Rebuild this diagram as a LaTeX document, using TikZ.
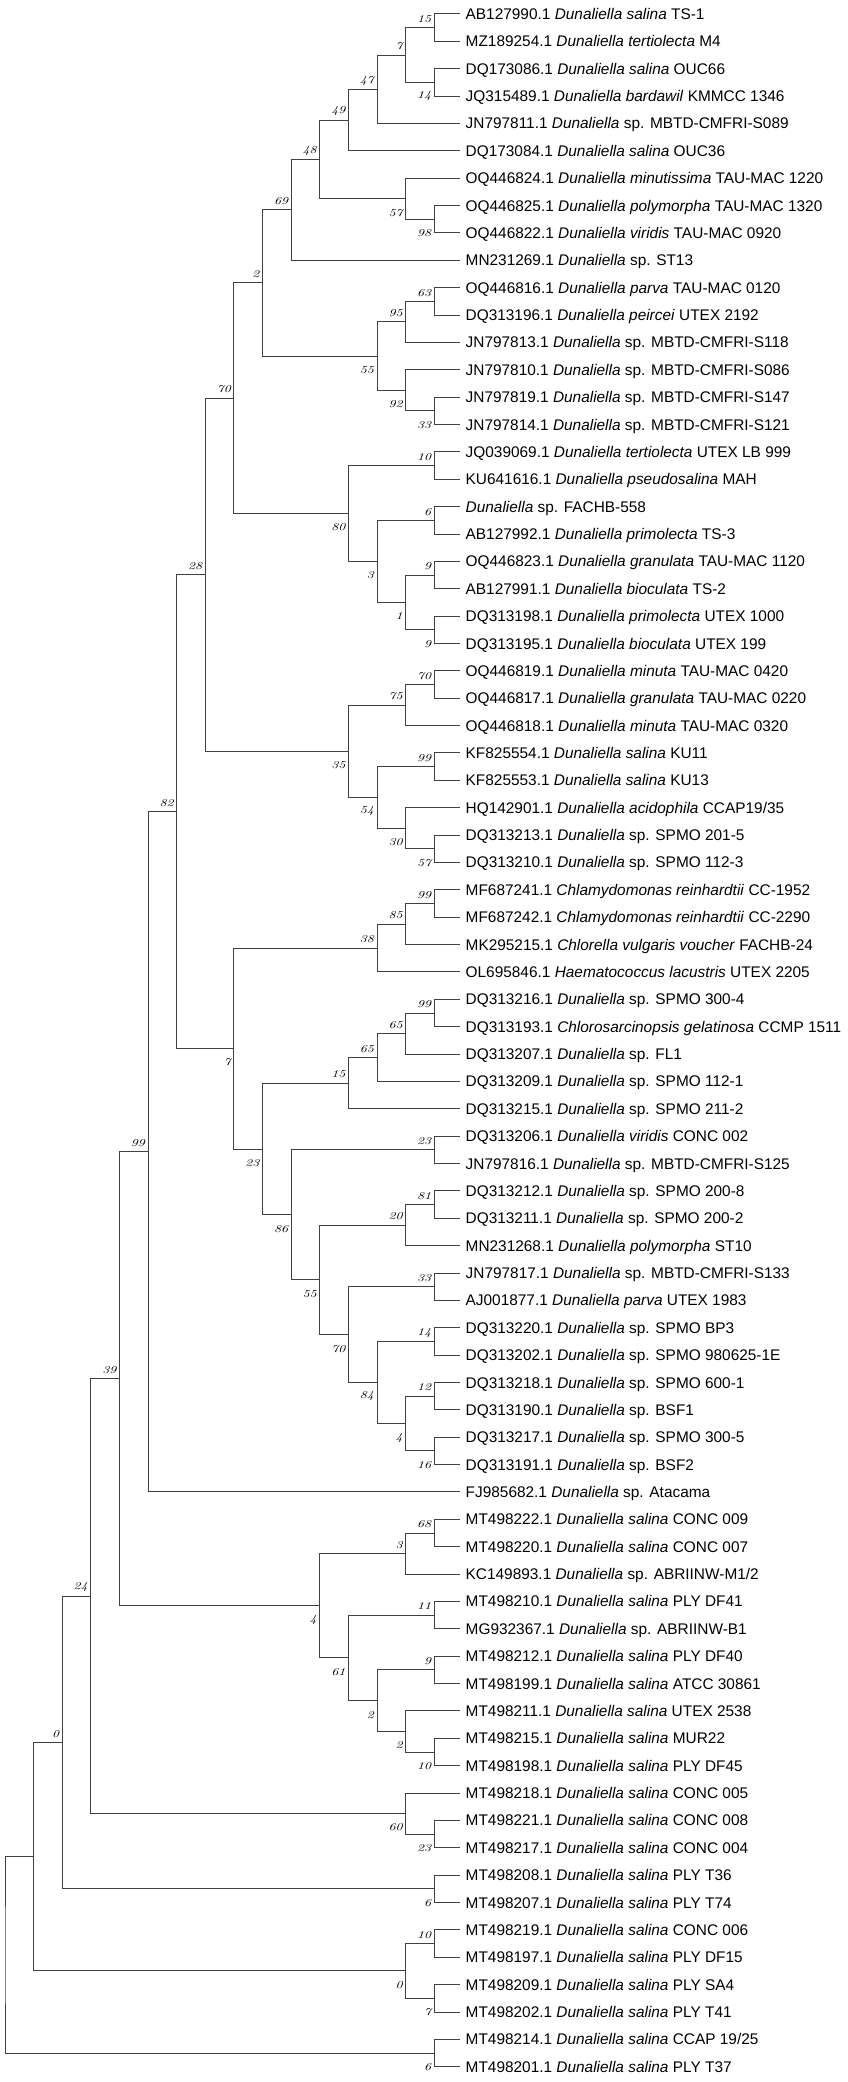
\documentclass[tikz,border=0pt]{standalone}
\usepackage{fontspec}
\newfontfamily\leaffont{Liberation Sans}
\newfontfamily\bootfont[Extension=.otf, FakeStretch=1.3]{lmroman10-italic}
\usetikzlibrary{calc}

\tikzset{
  branch/.style={line width=1pt, draw=black!75},
  taxon/.style={anchor=west, inner sep=0pt, text height=11pt, text depth=0pt,
    font=\leaffont\fontsize{15.4}{15.4}\selectfont},
  boot/.style={anchor=east, inner sep=0pt, xshift=-3pt,
    font=\bootfont\fontsize{10.5}{10.5}\selectfont},
  up/.style={yshift=8.7pt},
  dn/.style={yshift=-14pt},
}

% clade: name, depth, upper child, lower child, bootstrap, label side
\newcommand{\clade}[6]{%
  \path let \p1=(#3), \p2=(#4) in coordinate (#1) at ({5pt+28.62pt*#2}, {0.5*\y1+0.5*\y2});
  \draw[branch] (#3) -| (#1) |- (#4);
  \node[boot, #6] (#1-bs) at (#1) {#5};}

\begin{document}
\begin{tikzpicture}[x=1pt, y=-1pt]
  \useasboundingbox (0,0) rectangle (848,2082);

  % Taxa
  \foreach \t [count=\i] in {
    {AB127990.1 \textit{Dunaliella salina} TS-1},
    {MZ189254.1 \textit{Dunaliella tertiolecta} M4},
    {DQ173086.1 \textit{Dunaliella salina} OUC66},
    {JQ315489.1 \textit{Dunaliella bardawil} KMMCC 1346},
    {JN797811.1 \textit{Dunaliella} sp. MBTD-CMFRI-S089},
    {DQ173084.1 \textit{Dunaliella salina} OUC36},
    {OQ446824.1 \textit{Dunaliella minutissima} TAU-MAC 1220},
    {OQ446825.1 \textit{Dunaliella polymorpha} TAU-MAC 1320},
    {OQ446822.1 \textit{Dunaliella viridis} TAU-MAC 0920},
    {MN231269.1 \textit{Dunaliella} sp. ST13},
    {OQ446816.1 \textit{Dunaliella parva} TAU-MAC 0120},
    {DQ313196.1 \textit{Dunaliella peircei} UTEX 2192},
    {JN797813.1 \textit{Dunaliella} sp. MBTD-CMFRI-S118},
    {JN797810.1 \textit{Dunaliella} sp. MBTD-CMFRI-S086},
    {JN797819.1 \textit{Dunaliella} sp. MBTD-CMFRI-S147},
    {JN797814.1 \textit{Dunaliella} sp. MBTD-CMFRI-S121},
    {JQ039069.1 \textit{Dunaliella tertiolecta} UTEX LB 999},
    {KU641616.1 \textit{Dunaliella pseudosalina} MAH},
    {\textit{Dunaliella} sp. FACHB-558},
    {AB127992.1 \textit{Dunaliella primolecta} TS-3},
    {OQ446823.1 \textit{Dunaliella granulata} TAU-MAC 1120},
    {AB127991.1 \textit{Dunaliella bioculata} TS-2},
    {DQ313198.1 \textit{Dunaliella primolecta} UTEX 1000},
    {DQ313195.1 \textit{Dunaliella bioculata} UTEX 199},
    {OQ446819.1 \textit{Dunaliella minuta} TAU-MAC 0420},
    {OQ446817.1 \textit{Dunaliella granulata} TAU-MAC 0220},
    {OQ446818.1 \textit{Dunaliella minuta} TAU-MAC 0320},
    {KF825554.1 \textit{Dunaliella salina} KU11},
    {KF825553.1 \textit{Dunaliella salina} KU13},
    {HQ142901.1 \textit{Dunaliella acidophila} CCAP19/35},
    {DQ313213.1 \textit{Dunaliella} sp. SPMO 201-5},
    {DQ313210.1 \textit{Dunaliella} sp. SPMO 112-3},
    {MF687241.1 \textit{Chlamydomonas reinhardtii} CC-1952},
    {MF687242.1 \textit{Chlamydomonas reinhardtii} CC-2290},
    {MK295215.1 \textit{Chlorella vulgaris voucher} FACHB-24},
    {OL695846.1 \textit{Haematococcus lacustris} UTEX 2205},
    {DQ313216.1 \textit{Dunaliella} sp. SPMO 300-4},
    {DQ313193.1 \textit{Chlorosarcinopsis gelatinosa} CCMP 1511},
    {DQ313207.1 \textit{Dunaliella} sp. FL1},
    {DQ313209.1 \textit{Dunaliella} sp. SPMO 112-1},
    {DQ313215.1 \textit{Dunaliella} sp. SPMO 211-2},
    {DQ313206.1 \textit{Dunaliella viridis} CONC 002},
    {JN797816.1 \textit{Dunaliella} sp. MBTD-CMFRI-S125},
    {DQ313212.1 \textit{Dunaliella} sp. SPMO 200-8},
    {DQ313211.1 \textit{Dunaliella} sp. SPMO 200-2},
    {MN231268.1 \textit{Dunaliella polymorpha} ST10},
    {JN797817.1 \textit{Dunaliella} sp. MBTD-CMFRI-S133},
    {AJ001877.1 \textit{Dunaliella parva} UTEX 1983},
    {DQ313220.1 \textit{Dunaliella} sp. SPMO BP3},
    {DQ313202.1 \textit{Dunaliella} sp. SPMO 980625-1E},
    {DQ313218.1 \textit{Dunaliella} sp. SPMO 600-1},
    {DQ313190.1 \textit{Dunaliella} sp. BSF1},
    {DQ313217.1 \textit{Dunaliella} sp. SPMO 300-5},
    {DQ313191.1 \textit{Dunaliella} sp. BSF2},
    {FJ985682.1 \textit{Dunaliella} sp. Atacama},
    {MT498222.1 \textit{Dunaliella salina} CONC 009},
    {MT498220.1 \textit{Dunaliella salina} CONC 007},
    {KC149893.1 \textit{Dunaliella} sp. ABRIINW-M1/2},
    {MT498210.1 \textit{Dunaliella salina} PLY DF41},
    {MG932367.1 \textit{Dunaliella} sp. ABRIINW-B1},
    {MT498212.1 \textit{Dunaliella salina} PLY DF40},
    {MT498199.1 \textit{Dunaliella salina} ATCC 30861},
    {MT498211.1 \textit{Dunaliella salina} UTEX 2538},
    {MT498215.1 \textit{Dunaliella salina} MUR22},
    {MT498198.1 \textit{Dunaliella salina} PLY DF45},
    {MT498218.1 \textit{Dunaliella salina} CONC 005},
    {MT498221.1 \textit{Dunaliella salina} CONC 008},
    {MT498217.1 \textit{Dunaliella salina} CONC 004},
    {MT498208.1 \textit{Dunaliella salina} PLY T36},
    {MT498207.1 \textit{Dunaliella salina} PLY T74},
    {MT498219.1 \textit{Dunaliella salina} CONC 006},
    {MT498197.1 \textit{Dunaliella salina} PLY DF15},
    {MT498209.1 \textit{Dunaliella salina} PLY SA4},
    {MT498202.1 \textit{Dunaliella salina} PLY T41},
    {MT498214.1 \textit{Dunaliella salina} CCAP 19/25},
    {MT498201.1 \textit{Dunaliella salina} PLY T37}}
  {
    \coordinate (l\i) at (460, {14+27.37*(\i-1)});
    \node[taxon] (t\i) at (465.5, {14+27.37*(\i-1)}) {\t};
  }

  % Clades, top to bottom
  \clade{c15}{15}{l1}{l2}{15}{up}
  \clade{c14}{15}{l3}{l4}{14}{dn}
  \clade{c7}{14}{c15}{c14}{7}{up}
  \clade{c47}{13}{c7}{l5}{47}{up}
  \clade{c49}{12}{c47}{l6}{49}{up}
  \clade{c98}{15}{l8}{l9}{98}{dn}
  \clade{c57}{14}{l7}{c98}{57}{dn}
  \clade{c48}{11}{c49}{c57}{48}{up}
  \clade{c69}{10}{c48}{l10}{69}{up}
  \clade{c63}{15}{l11}{l12}{63}{up}
  \clade{c95}{14}{c63}{l13}{95}{up}
  \clade{c33}{15}{l15}{l16}{33}{dn}
  \clade{c92}{14}{l14}{c33}{92}{dn}
  \clade{c55}{13}{c95}{c92}{55}{dn}
  \clade{c2}{9}{c69}{c55}{2}{up}
  \clade{c10}{15}{l17}{l18}{10}{up}
  \clade{c6}{15}{l19}{l20}{6}{up}
  \clade{c9}{15}{l21}{l22}{9}{up}
  \clade{c9b}{15}{l23}{l24}{9}{dn}
  \clade{c1}{14}{c9}{c9b}{1}{dn}
  \clade{c3}{13}{c6}{c1}{3}{dn}
  \clade{c80}{12}{c10}{c3}{80}{dn}
  \clade{c70}{8}{c2}{c80}{70}{up}
  \clade{c70b}{15}{l25}{l26}{70}{up}
  \clade{c75}{14}{c70b}{l27}{75}{up}
  \clade{c99}{15}{l28}{l29}{99}{up}
  \clade{c57b}{15}{l31}{l32}{57}{dn}
  \clade{c30}{14}{l30}{c57b}{30}{dn}
  \clade{c54}{13}{c99}{c30}{54}{dn}
  \clade{c35}{12}{c75}{c54}{35}{dn}
  \clade{c28}{7}{c70}{c35}{28}{up}
  \clade{c99b}{15}{l33}{l34}{99}{up}
  \clade{c85}{14}{c99b}{l35}{85}{up}
  \clade{c38}{13}{c85}{l36}{38}{up}
  \clade{c99c}{15}{l37}{l38}{99}{up}
  \clade{c65}{14}{c99c}{l39}{65}{up}
  \clade{c65b}{13}{c65}{l40}{65}{up}
  \clade{c15b}{12}{c65b}{l41}{15}{up}
  \clade{c23}{15}{l42}{l43}{23}{up}
  \clade{c81}{15}{l44}{l45}{81}{up}
  \clade{c20}{14}{c81}{l46}{20}{up}
  \clade{c33b}{15}{l47}{l48}{33}{up}
  \clade{c14b}{15}{l49}{l50}{14}{up}
  \clade{c12}{15}{l51}{l52}{12}{up}
  \clade{c16}{15}{l53}{l54}{16}{dn}
  \clade{c4}{14}{c12}{c16}{4}{dn}
  \clade{c84}{13}{c14b}{c4}{84}{dn}
  \clade{c70c}{12}{c33b}{c84}{70}{dn}
  \clade{c55b}{11}{c20}{c70c}{55}{dn}
  \clade{c86}{10}{c23}{c55b}{86}{dn}
  \clade{c23b}{9}{c15b}{c86}{23}{dn}
  \clade{c7b}{8}{c38}{c23b}{7}{dn}
  \clade{c82}{6}{c28}{c7b}{82}{up}
  \clade{c99d}{5}{c82}{l55}{99}{up}
  \clade{c68}{15}{l56}{l57}{68}{up}
  \clade{c3b}{14}{c68}{l58}{3}{up}
  \clade{c11}{15}{l59}{l60}{11}{up}
  \clade{c9c}{15}{l61}{l62}{9}{up}
  \clade{c10b}{15}{l64}{l65}{10}{dn}
  \clade{c2b}{14}{l63}{c10b}{2}{dn}
  \clade{c2c}{13}{c9c}{c2b}{2}{dn}
  \clade{c61}{12}{c11}{c2c}{61}{dn}
  \clade{c4b}{11}{c3b}{c61}{4}{dn}
  \clade{c39}{4}{c99d}{c4b}{39}{up}
  \clade{c23c}{15}{l67}{l68}{23}{dn}
  \clade{c60}{14}{l66}{c23c}{60}{dn}
  \clade{c24}{3}{c39}{c60}{24}{up}
  \clade{c6b}{15}{l69}{l70}{6}{dn}
  \clade{c0}{2}{c24}{c6b}{0}{up}
  \clade{c10c}{15}{l71}{l72}{10}{up}
  \clade{c7c}{15}{l73}{l74}{7}{dn}
  \clade{c0b}{14}{c10c}{c7c}{0}{dn}
  \clade{cA}{1}{c0}{c0b}{}{up}
  \clade{c6c}{15}{l75}{l76}{6}{dn}
  \clade{root}{0}{cA}{c6c}{}{up}
\end{tikzpicture}
\end{document}
